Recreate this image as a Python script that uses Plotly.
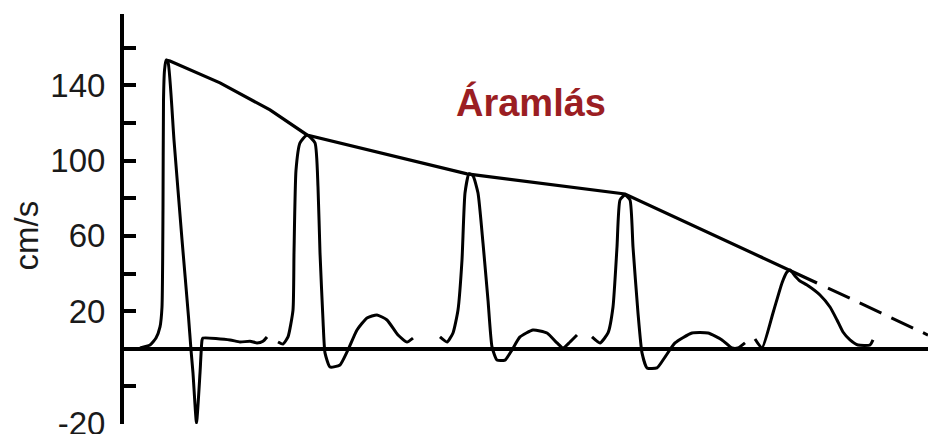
import plotly.graph_objects as go

# ---- data (time in arbitrary units, velocity in cm/s) ----
p1_t = [18, 28, 34, 38, 40, 41, 41.5, 42.5, 44, 46, 52, 60, 66.5, 69, 71, 74.5, 78, 80, 81, 108, 118, 128, 135, 141, 145]
p1_v = [0.4, 2, 5.7, 11.6, 22.2, 75, 132, 148, 153.5, 152.5, 111, 58, 17, -0.6, -13, -39.5, -13, 4.5, 5.7, 4.7, 3.6, 4, 3.1, 4, 6.3]

p2_t = [156, 161, 166, 171, 172, 174, 178, 185, 193, 196, 198, 201, 203, 208, 218, 226, 235, 245, 255, 265, 276, 285, 291]
p2_v = [3.6, 2.5, 6.3, 20.6, 51, 95, 109.5, 113.7, 109.5, 86, 51, 15.3, -2.2, -9.7, -8.6, -0.6, 10, 16.4, 18, 15.3, 7.3, 3.6, 5.7]

p3_t = [318, 325, 331, 336, 340, 343, 347, 351, 356, 361, 366, 370, 375, 383, 390, 398, 411, 425, 435, 441, 448, 455]
p3_v = [6.3, 3.6, 8.4, 20.6, 47.2, 82.8, 93, 92, 82.8, 56.2, 25.9, 1, -6, -6, -0.6, 6.3, 10, 8.4, 3.1, 0.4, 3.6, 7.3]

p4_t = [470, 478, 486, 491, 495, 498, 503, 508, 511, 516, 520, 525, 535, 543, 553, 570, 586, 600, 610, 616, 623]
p4_v = [6.3, 3.1, 8.4, 22.2, 54.1, 79.1, 81.8, 79.1, 54.1, 19, -2.2, -10.2, -10.2, -4.4, 3.1, 8.4, 8.4, 4.7, 0.4, 0.4, 3.1]

p5_t = [633, 640, 651, 660, 665, 668, 673, 678, 685, 698, 708, 715, 721, 728, 736, 748, 751]
p5_v = [5.2, 0.4, 19, 35, 40.8, 41.9, 38.7, 36, 33.9, 28.6, 22.2, 15.3, 8.9, 4.7, 2, 2, 4.7]

env_t = [44, 48, 98, 148, 185, 345, 503, 666, 695]
env_v = [153.5, 153, 141.4, 127, 113.7, 93, 82.3, 41.9, 35]

ext_t = [706, 806]
ext_v = [32.3, 7.3]

tick_vals = [-39.9, -20, 0, 20, 40, 60, 80, 100, 120, 140, 160]
tick_text = ["-20", "", "", "20", "", "60", "", "100", "", "140", ""]

title_text = "Áramlás"
unit_text = "cm/s"

fig = go.Figure()
for t, v in [(p1_t, p1_v), (p2_t, p2_v), (p3_t, p3_v), (p4_t, p4_v), (p5_t, p5_v)]:
    fig.add_trace(go.Scatter(x=t, y=v, mode="lines",
                             line=dict(color="black", width=3, shape="spline", smoothing=0.5),
                             hoverinfo="skip", showlegend=False))
fig.add_trace(go.Scatter(x=env_t, y=env_v, mode="lines",
                         line=dict(color="black", width=3.2),
                         hoverinfo="skip", showlegend=False))
fig.add_trace(go.Scatter(x=ext_t, y=ext_v, mode="lines",
                         line=dict(color="black", width=3, dash="24px,11px"),
                         hoverinfo="skip", showlegend=False))

fig.add_annotation(x=409, y=131, xref="x", yref="y", text=f"<b>{title_text}</b>",
                   showarrow=False, font=dict(family="Liberation Sans, Arial", size=38, color="#9b1e23"))
fig.add_annotation(x=0, xref="paper", xshift=-118, y=60, yref="y", text=unit_text, textangle=-90,
                   showarrow=False, font=dict(family="Liberation Sans, Arial", size=33, color="#1a1a1a"))

fig.update_layout(
    width=928, height=434,
    margin=dict(l=124, r=0, t=14, b=10),
    paper_bgcolor="white", plot_bgcolor="white",
    xaxis=dict(range=[2, 806], visible=False),
    yaxis=dict(range=[-40, 178], tickvals=tick_vals, ticktext=tick_text, automargin=False,
               ticks="inside", ticklen=12, tickwidth=4, tickcolor="black",
               showline=True, linewidth=4, linecolor="black",
               showgrid=False, zeroline=True, zerolinecolor="black", zerolinewidth=3.5,
               ticklabelstandoff=8, ticklabeloverflow="allow",
               tickfont=dict(family="Liberation Sans, Arial", size=33, color="#1a1a1a")),
)

fig.write_html("out.html", config={"displayModeBar": False},
               post_script="document.body.style.margin='0';document.body.style.overflow='hidden';")
